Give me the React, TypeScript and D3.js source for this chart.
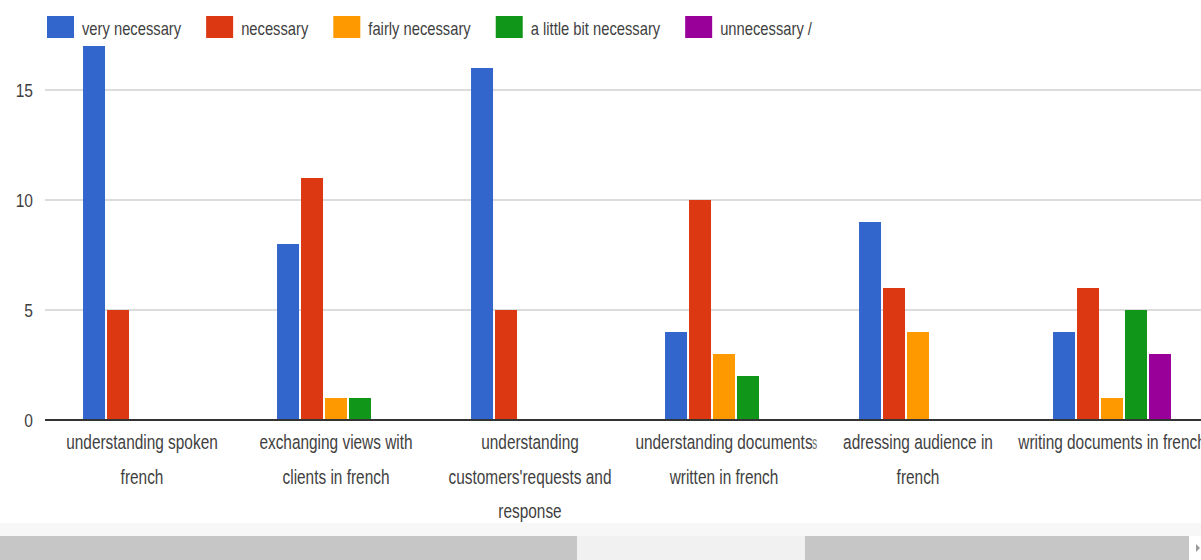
import React, { useEffect, useRef } from "react";
import * as d3 from "d3";

const categories = [
  "understanding spoken french",
  "exchanging views with clients in french",
  "understanding customers'requests and response",
  "understanding documents written in french",
  "adressing audience in french",
  "writing documents in french",
];
const categoryLines = [
  ["understanding spoken", "french"],
  ["exchanging views with", "clients in french"],
  ["understanding", "customers'requests and", "response"],
  ["understanding documents", "written in french"],
  ["adressing audience in", "french"],
  ["writing documents in french"],
];
const seriesNames = ["very necessary", "necessary", "fairly necessary", "a little bit necessary", "unnecessary /"];
const seriesColors = ["#3366cc", "#dc3912", "#ff9900", "#109618", "#990099"];
const veryNecessary = [17, 8, 16, 4, 9, 4];
const necessary = [5, 11, 5, 10, 6, 6];
const fairlyNecessary = [0, 1, 0, 3, 4, 1];
const littleBitNecessary = [0, 1, 0, 2, 0, 5];
const unnecessary = [0, 0, 0, 0, 0, 3];
const seriesValues = [veryNecessary, necessary, fairlyNecessary, littleBitNecessary, unnecessary];
const yTicks = [0, 5, 10, 15];

const W = 1201;
const H = 560;
const SX = 0.82;
const SXL = 0.79;
const FONT = "'Liberation Sans', Arial, sans-serif";
const TEXT = "#3f3f3f";

export default function App() {
  const ref = useRef<SVGSVGElement>(null);
  useEffect(() => {
    const svg = d3.select(ref.current);
    svg.selectAll("*").remove();

    const y = d3.scaleLinear().domain([0, 15]).range([420, 90]);
    const x0 = d3.scaleBand<string>().domain(categories).range([45, 1209]).paddingInner(0.392).paddingOuter(0.196);
    const x1 = d3.scaleBand<string>().domain(seriesNames).range([0, x0.bandwidth()]).paddingInner(0.083);

    svg.append("rect").attr("width", W).attr("height", H).attr("fill", "#fff");

    // gridlines
    svg.append("g").selectAll("line").data(yTicks.filter(t => t > 0)).join("line")
      .attr("x1", 45).attr("x2", W).attr("y1", d => y(d)).attr("y2", d => y(d))
      .attr("stroke", "#d0d0d0").attr("stroke-width", 1.5);

    // y tick labels
    svg.append("g").selectAll("text").data(yTicks).join("text")
      .attr("transform", d => `translate(33,${y(d) + 7}) scale(${SX},1)`)
      .attr("text-anchor", "end").attr("font-family", FONT).attr("font-size", 19).attr("fill", TEXT)
      .text(d => String(d));

    // bars
    const groups = svg.append("g").selectAll("g").data(categories).join("g")
      .attr("transform", c => `translate(${x0(c)},0)`);
    groups.selectAll("rect")
      .data((c, i) => seriesNames.map((s, k) => ({ s, v: seriesValues[k][i], color: seriesColors[k] })).filter(d => d.v > 0))
      .join("rect")
      .attr("x", d => x1(d.s)!).attr("width", x1.bandwidth())
      .attr("y", d => y(d.v)).attr("height", d => y(0) - y(d.v))
      .attr("fill", d => d.color);

    // baseline
    svg.append("line").attr("x1", 45).attr("x2", W).attr("y1", y(0)).attr("y2", y(0))
      .attr("stroke", "#333").attr("stroke-width", 2);

    // x labels
    categories.forEach((c, i) => {
      const cx = x0(c)! + x0.bandwidth() / 2;
      categoryLines[i].forEach((line, j) => {
        svg.append("text")
          .attr("transform", `translate(${cx},${449 + j * 34.5}) scale(${SXL},1)`)
          .attr("text-anchor", "middle").attr("font-family", FONT).attr("font-size", 19.5).attr("fill", TEXT)
          .text(line);
      });
    });
    // stray stitched glyph
    svg.append("text").attr("transform", `translate(812,449) scale(0.55,1)`)
      .attr("font-family", FONT).attr("font-size", 19).attr("fill", "#777").text("s");

    // legend
    let lx = 47;
    seriesNames.forEach((s, k) => {
      svg.append("rect").attr("x", lx).attr("y", 16).attr("width", 27).attr("height", 22).attr("fill", seriesColors[k]);
      const t = svg.append("text")
        .attr("transform", `translate(${lx + 35},35) scale(${SX},1)`)
        .attr("font-family", FONT).attr("font-size", 18).attr("fill", TEXT).text(s);
      const w = (t.node() as SVGTextElement).getComputedTextLength() * SX;
      lx = lx + 35 + w + 25;
    });

    // scrollbar
    svg.append("rect").attr("x", 0).attr("y", 523).attr("width", W).attr("height", 14).attr("fill", "#f7f7f7");
    svg.append("rect").attr("x", 0).attr("y", 536).attr("width", W).attr("height", 24).attr("fill", "#f1f1f1");
    svg.append("rect").attr("x", 0).attr("y", 536).attr("width", 577).attr("height", 24).attr("fill", "#c6c6c6");
    svg.append("rect").attr("x", 805).attr("y", 536).attr("width", 384).attr("height", 24).attr("fill", "#c6c6c6");
    svg.append("rect").attr("x", 1189).attr("y", 536).attr("width", 12).attr("height", 24).attr("fill", "#fff");
    svg.append("path").attr("d", "M1196,544 L1200,548 L1196,552 Z").attr("fill", "#999");
  }, []);
  return (
    <svg ref={ref} width={W} height={H} style={{ position: "absolute", left: 0, top: 0, display: "block" }} />
  );
}
